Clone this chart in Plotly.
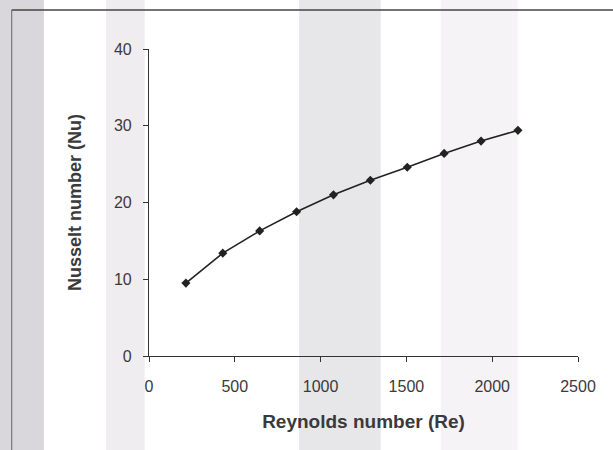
import plotly.graph_objects as go

re_vals = [215, 430, 645, 860, 1075, 1290, 1505, 1720, 1935, 2150]
nu_vals = [9.5, 13.4, 16.3, 18.8, 21.0, 22.9, 24.6, 26.4, 28.0, 29.4]
x_ticks = [0, 500, 1000, 1500, 2000, 2500]
y_ticks = [0, 10, 20, 30, 40]

fig = go.Figure()
fig.add_trace(go.Scatter(
    x=re_vals, y=nu_vals, mode="lines+markers",
    line=dict(color="#222222", width=1.6),
    marker=dict(symbol="diamond", size=7, color="#222222"),
    showlegend=False,
))

# scan-like background bands (decorative), in plot-area paper units
bands = [(-0.35, -0.245, "rgba(150,140,155,0.35)"), (-0.10, -0.01, "rgba(175,165,175,0.2)"),
         (0.35, 0.54, "rgba(160,155,165,0.25)"), (0.68, 0.86, "rgba(185,175,185,0.15)")]
shapes = [dict(type="rect", xref="paper", yref="paper", x0=x0, x1=x1, y0=-0.4, y1=1.2,
               fillcolor=c, line=dict(width=0), layer="below") for x0, x1, c in bands]
shapes.append(dict(type="line", xref="paper", yref="paper", x0=-0.32, x1=1.1, y0=1.127, y1=1.127,
                   line=dict(color="#444444", width=1.5)))
shapes.append(dict(type="line", xref="paper", yref="paper", x0=-0.32, x1=-0.32, y0=1.127, y1=-0.4,
                   line=dict(color="#666666", width=1)))

fig.update_layout(
    width=613, height=450,
    margin=dict(l=149, r=35, t=49, b=94),
    paper_bgcolor="white", plot_bgcolor="rgba(0,0,0,0)",
    font=dict(family="Liberation Sans, Arial, sans-serif", size=16, color="#3a3a3a"),
    shapes=shapes,
    xaxis=dict(range=[0, 2500], tickvals=x_ticks, showgrid=False, zeroline=False,
               showline=True, linecolor="#333333", linewidth=1.2,
               ticks="outside", ticklen=5, tickcolor="#333333",
               ticklabelstandoff=11, tickfont=dict(size=16),
               title=dict(text="<b>Reynolds number (Re)</b>", font=dict(size=19), standoff=20)),
    yaxis=dict(range=[0, 40], tickvals=y_ticks, showgrid=False, zeroline=False,
               showline=True, linecolor="#333333", linewidth=1.2,
               ticks="outside", ticklen=5, tickcolor="#333333",
               ticklabelstandoff=8, tickfont=dict(size=16),
               title=dict(text="<b>Nusselt number (Nu)</b>", font=dict(size=18), standoff=27)),
)
fig.write_html("out.html")
